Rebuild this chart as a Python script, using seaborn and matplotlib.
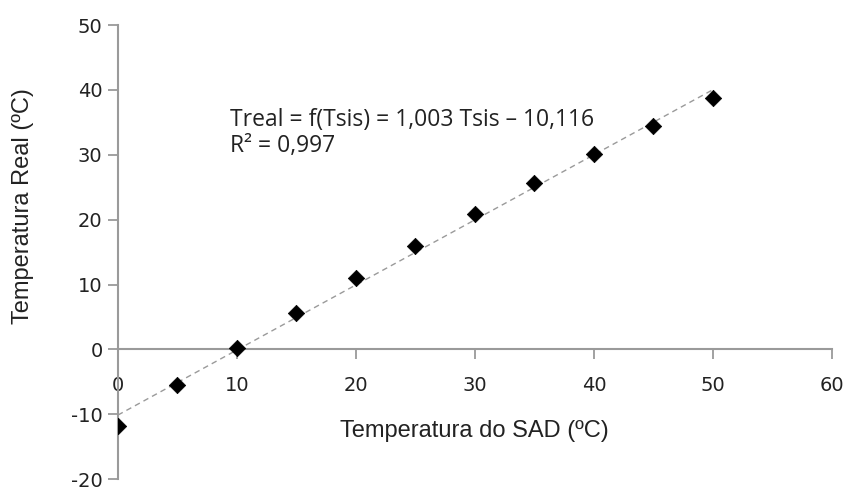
import numpy as np
import pandas as pd
import matplotlib
matplotlib.use("Agg")
import matplotlib.pyplot as plt
import seaborn as sns

# Calibration readings
t_sis = [0, 5, 10, 15, 20, 25, 30, 35, 40, 45, 50]
t_real = [-11.8, -5.5, 0.2, 5.6, 11.0, 16.0, 20.9, 25.6, 30.1, 34.5, 38.8]

# Fitted line coefficients (from the regression label)
slope = 1.003
intercept = -10.116
r2 = 0.997

x_ticks = [0, 10, 20, 30, 40, 50, 60]
y_ticks = [-20, -10, 0, 10, 20, 30, 40, 50]

sns.set_theme(style="ticks")
plt.rcParams["font.family"] = ["DejaVu Sans"]
plt.rcParams["axes.unicode_minus"] = False

df = pd.DataFrame({"Tsis": t_sis, "Treal": t_real})
fit_x = np.array([t_sis[0], t_sis[-1]])
fit = pd.DataFrame({"Tsis": fit_x, "Treal": slope * fit_x + intercept})

fig = plt.figure(figsize=(8.48, 4.91), dpi=100)
ax = fig.add_axes([0.139, 0.024, 0.842, 0.925])

sns.lineplot(data=fit, x="Tsis", y="Treal", ax=ax, color="#9a9a9a",
             linestyle=(0, (4, 3)), linewidth=1.0)
sns.scatterplot(data=df, x="Tsis", y="Treal", ax=ax, marker="D", s=70,
                color="black", edgecolor="black", linewidth=0.5, zorder=3)

ax.set_xlim(0, 60)
ax.set_ylim(-20, 50)
ax.set_xticks(x_ticks)
ax.set_yticks(y_ticks)
ax.tick_params(axis="both", labelsize=14, colors="#9a9a9a", labelcolor="#222222",
               length=7, width=1.3, direction="out")
ax.tick_params(axis="x", pad=12)
ax.tick_params(axis="y", pad=4)

for side in ["top", "right"]:
    ax.spines[side].set_visible(False)
ax.spines["bottom"].set_position(("data", 0))
for side in ["left", "bottom"]:
    ax.spines[side].set_color("#9a9a9a")
    ax.spines[side].set_linewidth(1.5)

ax.set_xlabel("Temperatura do SAD (ºC)", fontsize=17, family="Liberation Sans",
              color="#222222")
ax.set_ylabel("Temperatura Real (ºC)", fontsize=17, family="Liberation Sans",
              color="#222222")
ax.xaxis.set_label_coords(0.499, 0.13)
ax.yaxis.set_label_coords(-0.118, 0.601)

ax.text(9.4, 35.4, "Treal = f(Tsis) = 1,003 Tsis \u2013 10,116",
        fontsize=16.5, family="Open Sans", color="#222222", va="center")
ax.text(9.4, 31.3, "R\u00b2 = 0,997", fontsize=16.5, family="Open Sans",
        color="#222222", va="center")

fig.savefig("out.png", dpi=100)
